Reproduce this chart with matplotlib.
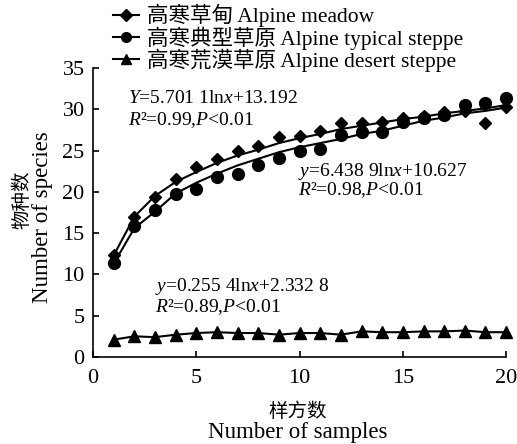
import matplotlib
matplotlib.use("Agg")
import matplotlib.pyplot as plt

plt.rcParams['font.family'] = ['Liberation Serif', 'Noto Sans CJK SC']
plt.rcParams['mathtext.fontset'] = 'custom'
plt.rcParams['mathtext.rm'] = 'Liberation Serif'
plt.rcParams['mathtext.it'] = 'Liberation Serif:italic'

# samples 1..20
samples = list(range(1, 21))

# observed species counts (markers)
meadow = [12.3, 16.9, 19.4, 21.6, 23.0, 24.0, 25.0, 25.5, 26.6, 26.8,
          27.4, 28.3, 28.3, 28.5, 28.9, 29.2, 29.7, 29.8, 28.3, 30.3]
typical = [11.4, 15.8, 17.8, 19.7, 20.4, 21.8, 22.2, 23.3, 24.1, 24.9,
           25.2, 26.9, 27.3, 27.2, 28.4, 28.9, 29.3, 30.5, 30.7, 31.3]
desert = [2.1, 2.5, 2.4, 2.7, 2.9, 3.0, 2.9, 2.9, 2.7, 2.9,
          2.9, 2.7, 3.1, 3.0, 3.0, 3.1, 3.1, 3.2, 3.0, 3.0]

# smoothed curves as drawn in the figure
meadow_line = [12.3, 17.0, 19.5, 21.2, 22.4, 23.5, 24.4, 25.1, 25.9, 26.5,
               27.0, 27.6, 28.0, 28.4, 28.8, 29.1, 29.5, 29.8, 30.1, 30.5]
typical_line = [11.3, 15.6, 17.6, 19.8, 21.1, 22.2, 23.2, 24.0, 24.8, 25.4,
                25.9, 26.4, 27.0, 27.4, 28.0, 28.6, 29.0, 29.5, 29.8, 30.2]

labels = ['高寒草甸 Alpine meadow', '高寒典型草原 Alpine typical steppe',
          '高寒荒漠草原 Alpine desert steppe']

fig = plt.figure(figsize=(5.17, 4.44), dpi=100)
ax = fig.add_axes([0.180, 0.196, 0.799, 0.651])

ax.plot(samples, meadow_line, color='black', lw=1.5)
ax.plot(samples, typical_line, color='black', lw=1.5)
ax.plot(samples, desert, color='black', lw=1.5)

ax.plot(samples, meadow, 'D', color='black', ms=6.5, clip_on=False)
ax.plot(samples, typical, 'o', color='black', ms=8.5, clip_on=False)
ax.plot(samples, desert, '^', color='black', ms=9, clip_on=False)

# legend proxies (marker + short line)
p1, = ax.plot([], [], '-D', color='black', ms=6, lw=1.5)
p2, = ax.plot([], [], '-o', color='black', ms=7, lw=1.5)
p3, = ax.plot([], [], '-^', color='black', ms=7.5, lw=1.5)
fig.legend([p1, p2, p3], labels, loc='upper left',
           bbox_to_anchor=(0.19, 1.025), frameon=False, fontsize=15.5,
           handlelength=1.2, handletextpad=0.35, labelspacing=-0.05,
           borderpad=0.2)

ax.set_xlim(0, 20)
ax.set_ylim(0, 35)
ax.set_xticks([0, 5, 10, 15, 20])
ax.set_yticks([0, 5, 10, 15, 20, 25, 30, 35])
ax.tick_params(direction='in', length=4, width=1.2, labelsize=16)
ax.tick_params(axis='x', pad=9)
ax.tick_params(axis='y', pad=6)
ax.spines['top'].set_visible(False)
ax.spines['right'].set_visible(False)
ax.spines['left'].set_linewidth(1.2)
ax.spines['bottom'].set_linewidth(1.2)

# fitted equations
ax.text(1.7, 31.3, r'$Y$=5.701 1ln$x$+13.192', fontsize=14, va='center')
ax.text(1.7, 28.7, r'$R$²=0.99,$P$<0.01', fontsize=14, va='center')
ax.text(9.9, 22.5, r'$y$=6.438 9ln$x$+10.627', fontsize=14, va='center')
ax.text(9.9, 20.2, r'$R$²=0.98,$P$<0.01', fontsize=14, va='center')
ax.text(3.0, 8.5, r'$y$=0.255 4ln$x$+2.332 8', fontsize=14, va='center')
ax.text(3.0, 6.1, r'$R$²=0.89,$P$<0.01', fontsize=14, va='center')

# axis titles
fig.text(0.043, 0.55, '物种数', rotation=90, fontsize=14,
         ha='center', va='center')
fig.text(0.083, 0.51, 'Number of species', rotation=90, fontsize=16.5,
         ha='center', va='center')
fig.text(0.575, 0.072, '样方数', fontsize=14, ha='center', va='center')
fig.text(0.575, 0.027, 'Number of samples', fontsize=16.5,
         ha='center', va='center')

fig.savefig('out.png', dpi=100)
